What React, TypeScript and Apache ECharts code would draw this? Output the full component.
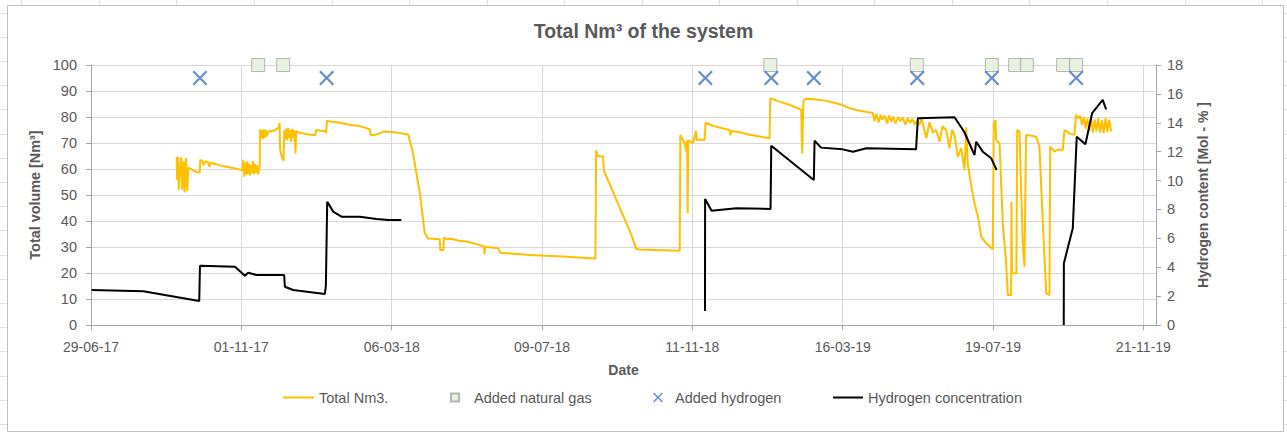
import React, { useEffect, useRef } from "react";
import * as echarts from "echarts";

// x values are days counted from 29-06-17
const BASE_DATE_UTC = Date.UTC(2017, 5, 29);
const X_INTERVAL = 125;
const X_MAX = 885.5;

const seriesNames = ["Total Nm3.", "Added natural gas", "Added hydrogen", "Hydrogen concentration"];

const totalNm3: [number, number][] = [
  [71.2, 64.7], [71.6, 55.8], [72.4, 64.5], [73.0, 52.0], [74.2, 61.0], [75.0, 64.5], [75.8, 52.0], [77.0, 63.0],
  [77.8, 51.0], [79.0, 64.2], [80.0, 51.5], [81.0, 60.5], [84.0, 59.8], [87.0, 59.0], [90.4, 58.6],
  [90.8, 63.5], [92.5, 63.0], [93.5, 61.5], [95.0, 63.0], [97.5, 62.6], [98.5, 60.8], [99.5, 62.5], [104, 61.8],
  [108, 61.3], [114, 60.8], [120, 60.2], [126, 59.5],
  [126.6, 63.5], [127.4, 57.0], [128.2, 62.5], [129.0, 57.8], [129.8, 63.0], [130.6, 58.0], [131.4, 62.0],
  [132.2, 57.5], [133.0, 61.5], [133.8, 58.5], [134.6, 63.0], [135.4, 58.0], [136.2, 62.0], [137.0, 58.5],
  [138.0, 61.5], [139.0, 58.0], [140.2, 60.9],
  [140.6, 75.3], [141.2, 72.0], [142.0, 75.0], [142.8, 71.5], [143.6, 75.2], [144.4, 72.0], [145.2, 75.0],
  [146.0, 72.5], [147.5, 74.5], [150.0, 74.5], [152.0, 74.8], [154.0, 75.2], [156.0, 76.0], [156.8, 77.8],
  [157.2, 67.5], [158.5, 65.0], [160.0, 63.2],
  [160.8, 75.0], [161.6, 71.5], [162.4, 75.5], [163.2, 71.0], [164.0, 75.8], [164.8, 72.0], [165.6, 75.0],
  [166.4, 70.5], [167.2, 75.5], [168.0, 72.0], [169.0, 75.0], [170.0, 66.0], [170.6, 74.5], [173.7, 74.0],
  [178, 73.5], [183, 73.2], [186.5, 73.0], [187.2, 75.0], [190, 74.8], [194, 74.6], [195.6, 74.0],
  [196.2, 78.6], [200, 78.2], [207, 77.8], [215, 77.0], [223.5, 76.5], [231.8, 75.3], [232.4, 73.2], [235, 73.0],
  [240, 73.7], [243, 74.4], [250, 74.2], [257, 73.8], [263.7, 73.3], [267.8, 66.0], [273.4, 50.6], [277.5, 35.3],
  [280.3, 33.3], [290.0, 33.0], [290.4, 28.8], [293.0, 28.8], [293.4, 33.6], [296, 33.0], [300, 33.2], [305, 32.5],
  [312, 32.1], [320, 31.2], [326.8, 30.2], [327.2, 27.2], [327.6, 30.1], [333, 29.8], [338.5, 29.5], [340.4, 27.8],
  [352, 27.4], [364.8, 26.9], [378, 26.6], [392.5, 26.3], [405, 26.0], [419.4, 25.6],
  [420.0, 67.1], [421.3, 65.0], [425.7, 64.8], [426.3, 59.6], [436.8, 48.1], [445.2, 39.1], [449.3, 34.6],
  [453.4, 29.2], [456.2, 29.0], [470, 28.8], [489.5, 28.6],
  [490.0, 73.1], [493.6, 69.9], [495.0, 66.7], [495.6, 71.0], [496.1, 43.0], [496.6, 71.0], [500.5, 70.0],
  [503.0, 74.7], [503.6, 71.0], [506, 71.3], [510.2, 71.2], [511.0, 77.8], [518, 76.5], [524, 75.8], [531, 75.0],
  [531.6, 73.0], [532.4, 74.6], [540, 74.0], [548, 73.2], [556, 72.5], [564.2, 71.8],
  [564.8, 87.2], [572, 86.0], [580, 84.8], [588, 83.3], [590.5, 82.8], [591.3, 66.0], [592.3, 86.0], [594, 87.0],
  [601, 86.8], [610, 86.3], [618, 85.5], [625, 84.6], [630, 83.5], [637, 82.6], [644, 82.0], [650, 81.5],
  [651.5, 78.5], [653, 81.2], [655, 78.0], [656.5, 80.8], [658, 79.0], [660, 80.5], [662, 77.5], [663.5, 80.6],
  [665.5, 78.2], [667, 80.2], [669, 77.5], [671, 80.0], [673, 78.5], [675, 79.8], [677, 77.0], [679, 79.6],
  [681, 77.8], [683, 79.3], [685, 77.0], [686.1, 78.2],
  [688.9, 77.0], [690.5, 79.5], [694.5, 71.8], [697.2, 78.0], [700, 74.0], [702.7, 75.0], [705.5, 70.5],
  [708, 76.5], [711, 75.0], [713.8, 68.0], [716, 75.0], [718, 73.0], [720.7, 64.7], [723.5, 68.0], [726.3, 59.6],
  [727.7, 76.0], [729, 62.0], [731.8, 53.8], [734.6, 46.8], [737.4, 41.7], [740.2, 34.0], [744.3, 31.4],
  [749.8, 29.1],
  [750.6, 77.6], [752.0, 78.8], [752.6, 71.2], [755.4, 69.9], [758.1, 39.1], [760.9, 23.7], [762.3, 11.5],
  [765.0, 11.5], [765.3, 47.4], [765.8, 19.9], [769.4, 19.9], [770.1, 75.0], [772.0, 74.4], [773.4, 51.9],
  [774.7, 31.4], [776.1, 22.4], [777.5, 73.1], [782, 72.8], [785.9, 72.4], [788.6, 68.6], [791.4, 39.1],
  [794.2, 12.2], [796.9, 11.5], [797.5, 68.6], [801.1, 66.7], [804, 67.5], [808, 67.3], [809.4, 75.0],
  [813.5, 73.7], [817.7, 73.1], [819.0, 80.8],
  [821, 79.5], [822.5, 80.5], [824, 77.0], [825.5, 80.0], [827, 75.5], [828.5, 79.5], [830, 74.5], [831.5, 79.8],
  [833, 74.0], [834.5, 79.0], [836, 74.5], [837.5, 79.6], [839, 74.0], [840.5, 78.8], [842, 73.8], [843.5, 79.5],
  [845, 74.2], [846.5, 79.0], [848.2, 74.5],
];

const hydrogenConcentration: [number, number | null][] = [
  [0.5, 2.42], [43.5, 2.33], [90, 1.66], [90.6, 4.1], [119.7, 4.04], [128, 3.41], [130.7, 3.62], [137.7, 3.46],
  [160.6, 3.46], [161.2, 2.65], [168, 2.42], [194.5, 2.15], [195.3, 2.77], [196.4, 8.54], [201.4, 7.85],
  [208.3, 7.5], [223.5, 7.5], [237.4, 7.34], [247, 7.27], [258, 7.27],
  [300, null],
  [510.5, 0.97], [510.6, 8.72], [516, 7.91], [536.6, 8.08], [565, 8.03], [565.6, 12.41], [601, 10.04],
  [601.6, 12.76], [607, 12.28], [625, 12.16], [633.5, 12.0], [644.6, 12.23], [686, 12.16], [687.5, 14.31],
  [718, 14.38], [726, 13.38], [734.6, 11.77], [736, 12.69], [741.5, 12.0], [748.5, 11.54], [753, 10.73],
  [780, null],
  [808.8, 0], [808.9, 4.27], [816.3, 6.69], [819.6, 13.04], [826.8, 12.51], [832.4, 14.66], [841.2, 15.58],
  [844, 14.93],
];

const naturalGasDays = [139.0, 159.8, 564.8, 686.6, 749.0, 768.4, 778.1, 808.3, 819.1];
const naturalGasLevel = 100;
const hydrogenAddedDays = [90.6, 195.9, 510.8, 565.7, 601.0, 687.0, 749.0, 819.1];
const hydrogenAddedLevel = 95;

const TEXT = "#595959";
const FONT = "'Liberation Sans', Arial, sans-serif";
const X_SYMBOL =
  "path://M1.5,0L7,5.5L12.5,0L14,1.5L8.5,7L14,12.5L12.5,14L7,8.5L1.5,14L0,12.5L5.5,7L0,1.5Z";
const SQUARE_ICON = "path://M0,0H10V10H0Z";
const LINE_ICON = "path://M0,0H30V2H0Z";

function formatDay(v: number): string {
  const d = new Date(BASE_DATE_UTC + Math.round(v) * 86400000);
  const dd = String(d.getUTCDate()).padStart(2, "0");
  const mm = String(d.getUTCMonth() + 1).padStart(2, "0");
  const yy = String(d.getUTCFullYear() % 100).padStart(2, "0");
  return `${dd}-${mm}-${yy}`;
}

function cellLines() {
  const items: any[] = [];
  const stroke = "#e1e1e1";
  for (let k = 0; k < 17; k++) {
    const x = Math.round(21.3 + 77.55 * k) + 0.5;
    items.push({ type: "line", silent: true, z: -10, shape: { x1: x, y1: 0, x2: x, y2: 5 }, style: { stroke, lineWidth: 1 } });
  }
  for (let k = 0; k < 18; k++) {
    const y = Math.round(12.5 + 24.2 * k) + 0.5;
    items.push({ type: "line", silent: true, z: -10, shape: { x1: 0, y1: y, x2: 7, y2: y }, style: { stroke, lineWidth: 1 } });
    items.push({ type: "line", silent: true, z: -10, shape: { x1: 1284, y1: y, x2: 1287, y2: y }, style: { stroke, lineWidth: 1 } });
  }
  items.push({
    type: "rect",
    silent: true,
    z: -5,
    shape: { x: 7.5, y: 5.5, width: 1276, height: 426 },
    style: { fill: "none", stroke: "#bfbfbf", lineWidth: 1 },
  });
  return items;
}

function legendFor(name: string, icon: string, left: number, itemWidth: number, itemHeight: number, keepAspect: boolean) {
  return {
    data: [{ name, icon }],
    left,
    top: 390,
    padding: 0,
    itemWidth,
    itemHeight,
    selectedMode: false,
    symbolKeepAspect: keepAspect,
    textStyle: { fontFamily: FONT, fontSize: 14.5, color: TEXT },
  };
}

export default function App() {
  const ref = useRef<HTMLDivElement>(null);

  useEffect(() => {
    if (!ref.current) return;
    const chart = echarts.init(ref.current, undefined, { renderer: "svg" });
    const axisGray = "#a6a6a6";
    const gridGray = "#d9d9d9";
    chart.setOption({
      animation: false,
      backgroundColor: "#ffffff",
      title: {
        text: "Total Nm³ of the system",
        left: "center",
        top: 21,
        padding: 0,
        textStyle: { fontFamily: FONT, fontSize: 19.5, fontWeight: "bold", color: TEXT },
      },
      graphic: cellLines(),
      legend: [
        legendFor(seriesNames[0], LINE_ICON, 283, 31, 2, false),
        legendFor(seriesNames[1], SQUARE_ICON, 450, 28, 8, true),
        legendFor(seriesNames[2], X_SYMBOL, 653, 24, 10, true),
        legendFor(seriesNames[3], LINE_ICON, 833, 30, 2, false),
      ],
      grid: { left: 91, right: 131, top: 65, bottom: 108 },
      xAxis: {
        type: "value",
        min: 0,
        max: X_MAX,
        interval: X_INTERVAL,
        name: "Date",
        nameLocation: "middle",
        nameGap: 38,
        nameTextStyle: { fontFamily: FONT, fontSize: 14, fontWeight: "bold", color: TEXT },
        axisLine: { show: true, onZero: false, lineStyle: { color: axisGray } },
        axisTick: { show: true, length: 5, lineStyle: { color: axisGray } },
        axisLabel: {
          fontFamily: FONT,
          fontSize: 14,
          color: TEXT,
          margin: 15,
          showMaxLabel: false,
          formatter: (v: number) => formatDay(v),
        },
        splitLine: { show: true, lineStyle: { color: gridGray } },
      },
      yAxis: [
        {
          type: "value",
          min: 0,
          max: 100,
          interval: 10,
          name: "Total volume [Nm³]",
          nameLocation: "middle",
          nameRotate: 90,
          nameGap: 41,
          nameTextStyle: { fontFamily: FONT, fontSize: 14.4, fontWeight: "bold", color: TEXT },
          axisLine: { show: true, lineStyle: { color: axisGray } },
          axisTick: { show: true, length: 5, lineStyle: { color: axisGray } },
          axisLabel: { fontFamily: FONT, fontSize: 14.5, color: TEXT, margin: 14 },
          splitLine: { show: true, lineStyle: { color: gridGray } },
        },
        {
          type: "value",
          min: 0,
          max: 18,
          interval: 2,
          position: "right",
          name: "Hydrogen content [Mol - % ]",
          nameLocation: "middle",
          nameRotate: 90,
          nameGap: 40,
          nameTextStyle: { fontFamily: FONT, fontSize: 14, fontWeight: "bold", color: TEXT },
          axisLine: { show: true, lineStyle: { color: axisGray } },
          axisTick: { show: true, length: 5, lineStyle: { color: axisGray } },
          axisLabel: { fontFamily: FONT, fontSize: 14.5, color: TEXT, margin: 11 },
          splitLine: { show: false },
        },
      ],
      series: [
        {
          name: seriesNames[0],
          type: "line",
          yAxisIndex: 0,
          data: totalNm3,
          showSymbol: false,
          symbol: "none",
          lineStyle: { color: "#ffc000", width: 2 },
          itemStyle: { color: "#ffc000" },
          z: 2,
        },
        {
          name: seriesNames[1],
          type: "scatter",
          yAxisIndex: 0,
          data: naturalGasDays.map((d) => [d, naturalGasLevel]),
          symbol: "rect",
          symbolSize: 13,
          clip: false,
          itemStyle: { color: "#e2efda", borderColor: "#a5a5a5", borderWidth: 1 },
          z: 3,
        },
        {
          name: seriesNames[2],
          type: "scatter",
          yAxisIndex: 0,
          data: hydrogenAddedDays.map((d) => [d, hydrogenAddedLevel]),
          symbol: X_SYMBOL,
          symbolSize: 15,
          clip: false,
          itemStyle: { color: "#4472c4" },
          z: 4,
        },
        {
          name: seriesNames[3],
          type: "line",
          yAxisIndex: 1,
          data: hydrogenConcentration,
          connectNulls: false,
          showSymbol: false,
          symbol: "none",
          lineStyle: { color: "#000000", width: 2 },
          itemStyle: { color: "#000000" },
          z: 5,
        },
      ],
    });
    return () => chart.dispose();
  }, []);

  return (
    <div
      ref={ref}
      style={{ position: "fixed", left: 0, top: 0, width: 1287, height: 433, background: "#fff" }}
    />
  );
}
